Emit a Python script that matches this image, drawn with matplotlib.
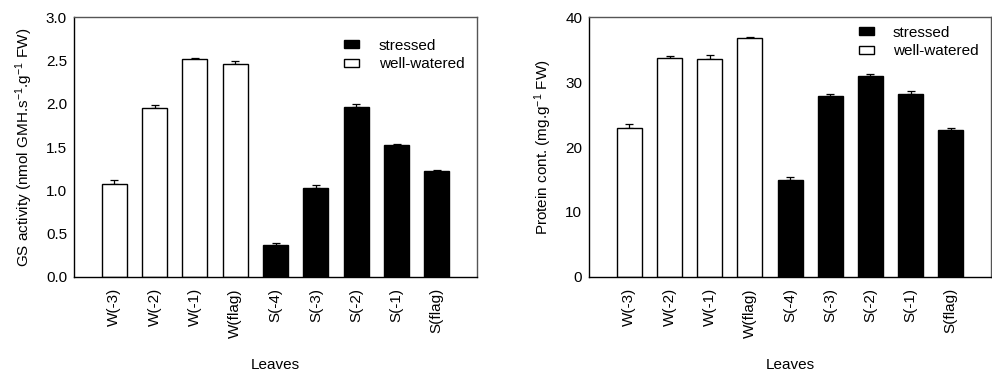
import numpy as np
import matplotlib
matplotlib.use('Agg')
import matplotlib.pyplot as plt
from matplotlib.patches import Patch

plt.rcParams['font.family'] = ['Liberation Sans', 'DejaVu Sans']
plt.rcParams['mathtext.fontset'] = 'custom'
plt.rcParams['mathtext.rm'] = 'Liberation Sans'
plt.rcParams['mathtext.it'] = 'Liberation Sans'

# Data
leaves = ['W(-3)', 'W(-2)', 'W(-1)', 'W(flag)', 'S(-4)', 'S(-3)', 'S(-2)', 'S(-1)', 'S(flag)']
stressed = [False, False, False, False, True, True, True, True, True]

gs_activity = [1.07, 1.95, 2.51, 2.46, 0.37, 1.03, 1.96, 1.52, 1.22]
gs_err = [0.05, 0.03, 0.02, 0.03, 0.02, 0.03, 0.04, 0.02, 0.02]

protein = [23.0, 33.7, 33.6, 36.7, 14.9, 27.8, 30.9, 28.1, 22.6]
protein_err = [0.5, 0.3, 0.5, 0.3, 0.5, 0.35, 0.4, 0.55, 0.4]

FS = 11


def bar_panel(ax, values, errors, ylim, yticks, ylabel, legend_anchor):
    x = np.arange(1, len(leaves) + 1)
    colors = ['black' if s else 'white' for s in stressed]
    ax.bar(x, values, width=0.62, color=colors, edgecolor='black', linewidth=1.0, zorder=2)
    # upper error bars only
    ax.errorbar(x, values, yerr=[np.zeros(len(values)), errors], fmt='none',
                ecolor='black', elinewidth=0.9, capsize=3.0, capthick=0.9, zorder=1)
    ax.set_xlim(0, 10)
    ax.set_ylim(*ylim)
    ax.set_yticks(yticks)
    ax.set_xticks(x)
    ax.set_xticklabels(leaves, rotation=90)
    ax.tick_params(axis='both', length=0, labelsize=FS)
    ax.tick_params(axis='y', pad=5)
    ax.tick_params(axis='x', pad=8)
    ax.set_xlabel('Leaves', fontsize=FS, labelpad=15)
    ax.set_ylabel(ylabel, fontsize=FS, labelpad=8)
    for side in ['top', 'right']:
        ax.spines[side].set_color('#555555')
    for side in ['left', 'bottom']:
        ax.spines[side].set_color('black')
    for s in ax.spines.values():
        s.set_linewidth(1.0)
    handles = [Patch(facecolor='black', edgecolor='black', label='stressed'),
               Patch(facecolor='white', edgecolor='black', label='well-watered')]
    ax.legend(handles=handles, loc='upper left', bbox_to_anchor=legend_anchor, frameon=False,
              fontsize=FS, handlelength=1.0, handleheight=0.45, handletextpad=1.25,
              labelspacing=0.3, borderaxespad=0)


fig = plt.figure(figsize=(9.92, 3.74), dpi=100)
ax1 = fig.add_axes([0.0746, 0.2594, 0.4064, 0.6951])
ax2 = fig.add_axes([0.594, 0.2594, 0.405, 0.6951])

bar_panel(ax1, gs_activity, gs_err, (0, 3.0), np.arange(0, 3.01, 0.5),
          'GS activity (nmol GMH.s$^{\\mathregular{-1}}$.g$^{\\mathregular{-1}}$ FW)', (0.655, 0.94))
ax1.yaxis.set_major_formatter(matplotlib.ticker.FormatStrFormatter('%.1f'))

bar_panel(ax2, protein, protein_err, (0, 40), np.arange(0, 41, 10),
          'Protein cont. (mg.g$^{\\mathregular{-1}}$ FW)', (0.655, 0.99))

fig.savefig('out.png', dpi=100)
